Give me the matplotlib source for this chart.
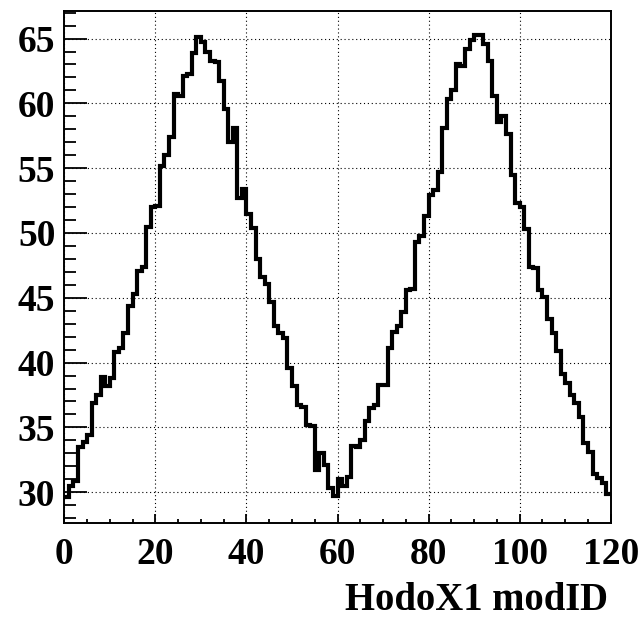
import numpy as np
import matplotlib
matplotlib.use("Agg")
import matplotlib.pyplot as plt
from matplotlib.ticker import MultipleLocator

# Data: 120 bins of HodoX1 modID, content
bin_edges = np.arange(0, 121, 1)
counts = [
    29.6, 30.5, 30.9, 33.5, 33.9, 34.4, 36.9, 37.5, 38.9, 38.2,
    38.8, 40.8, 41.1, 42.3, 44.4, 45.3, 47.1, 47.4, 50.5, 52.0,
    52.1, 55.2, 56.0, 57.4, 60.7, 60.6, 62.1, 62.3, 63.9, 65.1,
    64.7, 64.0, 63.3, 63.2, 61.7, 59.6, 57.0, 58.1, 52.7, 53.4,
    51.5, 50.4, 48.0, 46.6, 46.1, 44.7, 42.8, 42.3, 41.9, 39.6,
    38.2, 36.7, 36.6, 35.2, 35.1, 31.7, 33.0, 32.1, 30.3, 29.7,
    31.0, 30.5, 31.2, 33.6, 33.5, 34.0, 35.5, 36.5, 36.7, 38.3,
    38.3, 41.1, 42.4, 42.8, 43.9, 45.6, 45.7, 49.3, 49.8, 51.3,
    52.9, 53.3, 54.7, 58.1, 60.3, 61.0, 63.0, 62.9, 64.2, 64.9,
    65.3, 65.3, 64.6, 63.3, 60.6, 58.6, 59.0, 57.6, 54.5, 52.3,
    52.0, 50.3, 47.4, 47.3, 45.6, 45.1, 43.4, 42.3, 40.9, 39.1,
    38.4, 37.5, 36.9, 35.8, 33.8, 33.1, 31.4, 31.1, 30.7, 29.9,
]
x_label = "HodoX1 modID"

font = {"family": "Liberation Serif", "weight": "bold"}

fig = plt.figure(figsize=(6.43, 6.21), dpi=100)
ax = fig.add_axes([0.1000, 0.1583, 0.8498, 0.8245])

ax.stairs(counts, bin_edges, baseline=None, color="black", linewidth=3.0)

ax.set_xlim(0, 120)
ax.set_ylim(27.65, 67.15)

# ROOT-like axes: ticks inside, left/bottom only
ax.xaxis.set_major_locator(MultipleLocator(20))
ax.xaxis.set_minor_locator(MultipleLocator(5))
ax.yaxis.set_major_locator(MultipleLocator(5))
ax.yaxis.set_minor_locator(MultipleLocator(1))
ax.tick_params(axis="y", which="major", direction="in", length=16.5, width=1.3, pad=6.5)
ax.tick_params(axis="y", which="minor", direction="in", length=8.4, width=1.3)
ax.tick_params(axis="x", which="major", direction="in", length=6.5, width=1.3, pad=10)
ax.tick_params(axis="x", which="minor", direction="in", length=3.2, width=1.3)

for lab in ax.get_xticklabels() + ax.get_yticklabels():
    lab.set_fontfamily(font["family"])
    lab.set_fontweight(font["weight"])
    lab.set_fontsize(27)

ax.grid(True, which="major", color="black", linestyle=(0, (1, 2.5)), linewidth=0.8)
ax.set_axisbelow(True)

for sp in ax.spines.values():
    sp.set_linewidth(1.4)

ax.set_xlabel(x_label, loc="right", fontsize=27.8, **font)
ax.xaxis.set_label_coords(0.995, -0.152)
ax.xaxis.label.set_verticalalignment("center")

fig.savefig("out.png", dpi=100)
